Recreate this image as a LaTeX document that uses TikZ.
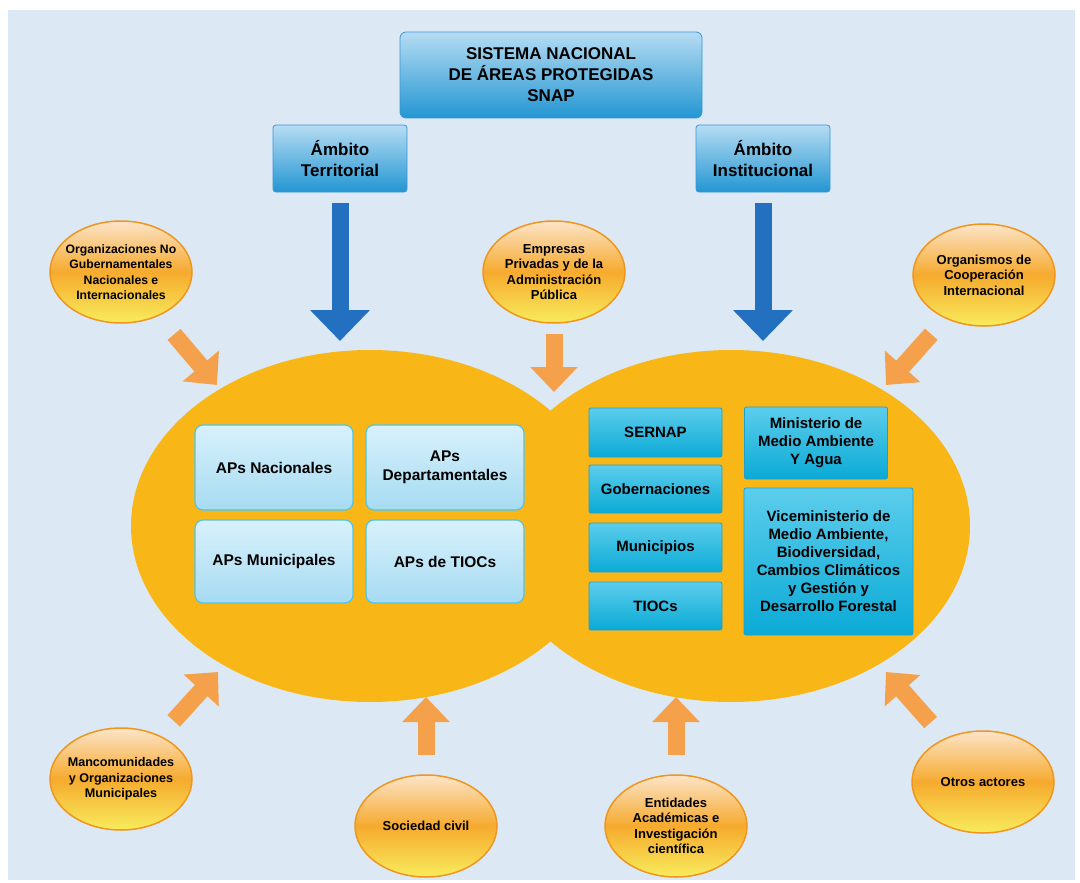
\documentclass[tikz,border=0pt]{standalone}
\usepackage{fontspec}
\setmainfont{Liberation Sans}
\usetikzlibrary{arrows.meta,shapes.geometric}
\definecolor{bgblue}{RGB}{220,233,245}
\definecolor{bigorange}{RGB}{248,183,22}
\definecolor{actoredge}{RGB}{238,150,30}
\definecolor{actortop}{RGB}{252,228,200}
\definecolor{actormid}{RGB}{246,170,46}
\definecolor{actorbot}{RGB}{248,236,92}
\definecolor{snaptop}{RGB}{182,220,243}
\definecolor{snapbot}{RGB}{35,150,210}
\definecolor{snapedge}{RGB}{60,150,210}
\definecolor{aptop}{RGB}{216,241,251}
\definecolor{apbot}{RGB}{166,219,242}
\definecolor{apedge}{RGB}{80,196,232}
\definecolor{insttop}{RGB}{92,205,236}
\definecolor{instbot}{RGB}{10,170,214}
\definecolor{instedge}{RGB}{30,160,206}
\definecolor{arrowblue}{RGB}{35,112,192}
\definecolor{arroworange}{RGB}{245,160,75}
\tikzset{
  snapbox/.style={draw=snapedge, line width=0.8pt, top color=snaptop, bottom color=snapbot,
    rounded corners=6pt, align=center, inner sep=0pt, font=\fontsize{17}{21}\selectfont\bfseries},
  ambbox/.style={snapbox, rounded corners=3pt, minimum width=134pt, minimum height=67pt},
  apbox/.style={draw=apedge, line width=1.2pt, top color=aptop, bottom color=apbot,
    rounded corners=8pt, minimum width=158pt, minimum height=85pt, align=center, inner sep=0pt,
    font=\fontsize{15.5}{19}\selectfont\bfseries},
  instbox/.style={draw=instedge, line width=0.8pt, top color=insttop, bottom color=instbot,
    rounded corners=2pt, minimum width=133pt, minimum height=49pt, align=center, inner sep=0pt,
    font=\fontsize{15}{18}\selectfont\bfseries},
  actor/.style={ellipse, draw=actoredge, line width=1.5pt, top color=actortop, bottom color=actorbot,
    middle color=actormid, minimum width=142pt, minimum height=102pt, inner xsep=-9pt, inner ysep=0pt,
    align=center, font=\fontsize{13}{15.5}\selectfont\bfseries},
  bigoval/.style={ellipse, fill=bigorange, minimum width=478pt, minimum height=352pt},
  bluearrow/.style={draw=arrowblue, line width=17pt, -{Triangle[length=31pt,width=58pt]}},
  orarrow/.style={draw=arroworange, line width=17pt, -{Triangle[length=25pt,width=46pt]}},
}

\begin{document}
\begin{tikzpicture}[x=1pt,y=-1pt]
  \useasboundingbox (0,0) rectangle (1080,883);
  \fill[bgblue] (8,10) rectangle (1075,880);

  % two big areas
  \node[bigoval] (terrarea) at (370,526) {};
  \node[bigoval] (instarea) at (731,526) {};

  % top boxes
  \node[snapbox, minimum width=302pt, minimum height=86pt] (snap) at (551,75) {SISTEMA NACIONAL\\DE ÁREAS PROTEGIDAS\\SNAP};
  \node[ambbox] (terr) at (340,158.5) {Ámbito\\Territorial};
  \node[ambbox] (inst) at (763,158.5) {Ámbito\\Institucional};
  \coordinate (tipT) at (340,341);
  \coordinate (tipI) at (763,341);
  \draw[bluearrow, shorten <=11pt] (terr) -- (tipT);
  \draw[bluearrow, shorten <=11pt] (inst) -- (tipI);

  % territorial side
  \node[apbox] (apnac) at (274,467.5) {APs Nacionales};
  \node[apbox] (apdep) at (445,467.5) {APs\\Departamentales};
  \node[apbox, minimum height=83pt] (apmun) at (274,561.5) {APs Municipales};
  \node[apbox, minimum height=83pt] (aptioc) at (445,561.5) {APs de TIOCs};

  % institutional side
  \node[instbox] (sernap) at (655.5,432.5) {SERNAP};
  \node[instbox, minimum height=48pt] (gob) at (655.5,489) {Gobernaciones};
  \node[instbox] (mun) at (655.5,547.5) {Municipios};
  \node[instbox, minimum height=48pt] (tiocs) at (655.5,606) {TIOCs};
  \node[instbox, minimum width=143pt, minimum height=72pt] (mmaya) at (816,443) {Ministerio de\\Medio Ambiente\\Y Agua};
  \node[instbox, minimum width=169pt, minimum height=147pt] (vice) at (828.5,561.5) {Viceministerio de\\Medio Ambiente,\\Biodiversidad,\\Cambios Climáticos\\y Gestión y\\Desarrollo Forestal};

  % actors around
  \node[actor, font=\fontsize{12.2}{15.5}\selectfont\bfseries] (ong) at (121,272) {Organizaciones No\\Gubernamentales\\Nacionales e\\Internacionales};
  \node[actor] (emp) at (554,272) {Empresas\\Privadas y de la\\Administración\\Pública};
  \node[actor] (coop) at (984,275) {Organismos de\\Cooperación\\Internacional};
  \node[actor, font=\fontsize{12.6}{15.5}\selectfont\bfseries] (manc) at (121,779) {Mancomunidades\\y Organizaciones\\Municipales};
  \node[actor] (soc) at (426,826) {Sociedad civil};
  \node[actor] (acad) at (676,826) {Entidades\\Académicas e\\Investigación\\científica};
  \node[actor] (otros) at (983,782) {Otros actores};

  \coordinate (tipA) at (217,385);
  \coordinate (tipB) at (554,392);
  \coordinate (tipC) at (886,385);
  \coordinate (tipD) at (218,672);
  \coordinate (tipE) at (426,697);
  \coordinate (tipF) at (676,697);
  \coordinate (tipG) at (886,672);
  \draw[orarrow, shorten <=24pt] (ong) -- (tipA);
  \draw[orarrow, shorten <=10pt] (emp) -- (tipB);
  \draw[orarrow, shorten <=21pt] (coop) -- (tipC);
  \draw[orarrow, shorten <=20pt] (manc) -- (tipD);
  \draw[orarrow, shorten <=19pt] (soc) -- (tipE);
  \draw[orarrow, shorten <=19pt] (acad) -- (tipF);
  \draw[orarrow, shorten <=21pt] (otros) -- (tipG);
\end{tikzpicture}
\end{document}
